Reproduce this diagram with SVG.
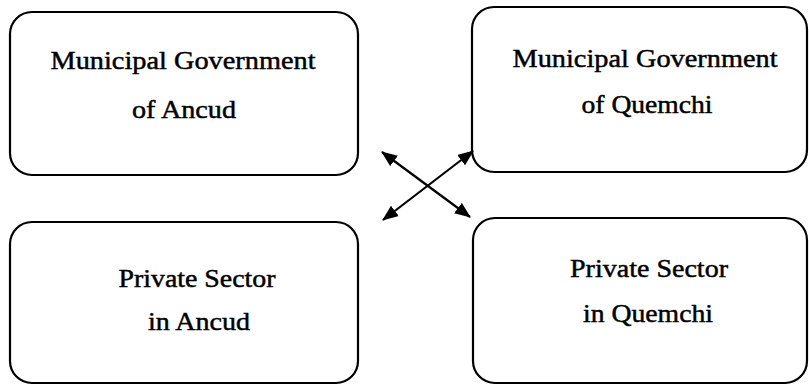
<svg xmlns="http://www.w3.org/2000/svg" width="809" height="386" viewBox="0 0 809 386">
  <style>
    .box { fill: #ffffff; stroke: #000000; stroke-width: 2.2; }
    .label { font-family: "Liberation Serif", "Times New Roman", serif; font-size: 24.5px; fill: #000000; stroke: #000000; stroke-width: 0.45; text-anchor: middle; }
    .link { stroke: #000000; stroke-width: 2.2; fill: none; }
  </style>
  <defs>
    <marker id="head" viewBox="0 0 16 13" refX="15" refY="6.5" markerWidth="16" markerHeight="13" markerUnits="userSpaceOnUse" orient="auto-start-reverse">
      <path d="M0,0 L16,6.5 L0,13 Z" fill="#000000"/>
    </marker>
  </defs>
  <rect width="809" height="386" fill="#ffffff"/>

  <g id="gov-ancud">
    <rect class="box" x="10" y="12" width="348" height="163" rx="22" ry="22"/>
    <text class="label" x="183" y="69" textLength="265" lengthAdjust="spacingAndGlyphs">Municipal Government</text>
    <text class="label" x="184" y="118" textLength="104" lengthAdjust="spacingAndGlyphs">of Ancud</text>
  </g>

  <g id="gov-quemchi">
    <rect class="box" x="472" y="7" width="335" height="165" rx="22" ry="22"/>
    <text class="label" x="645" y="67" textLength="265" lengthAdjust="spacingAndGlyphs">Municipal Government</text>
    <text class="label" x="647" y="113" textLength="131" lengthAdjust="spacingAndGlyphs">of Quemchi</text>
  </g>

  <g id="private-ancud">
    <rect class="box" x="10" y="222" width="348" height="161" rx="22" ry="22"/>
    <text class="label" x="197" y="287" textLength="157" lengthAdjust="spacingAndGlyphs">Private Sector</text>
    <text class="label" x="199" y="330" textLength="102" lengthAdjust="spacingAndGlyphs">in Ancud</text>
  </g>

  <g id="private-quemchi">
    <rect class="box" x="473" y="218" width="334" height="165" rx="22" ry="22"/>
    <text class="label" x="649" y="277" textLength="158" lengthAdjust="spacingAndGlyphs">Private Sector</text>
    <text class="label" x="648" y="322" textLength="130" lengthAdjust="spacingAndGlyphs">in Quemchi</text>
  </g>

  <g id="connectors">
    <line class="link" x1="382" y1="152" x2="470" y2="217" marker-start="url(#head)" marker-end="url(#head)"/>
    <line class="link" x1="383" y1="220" x2="473" y2="151" marker-start="url(#head)" marker-end="url(#head)"/>
  </g>
</svg>
